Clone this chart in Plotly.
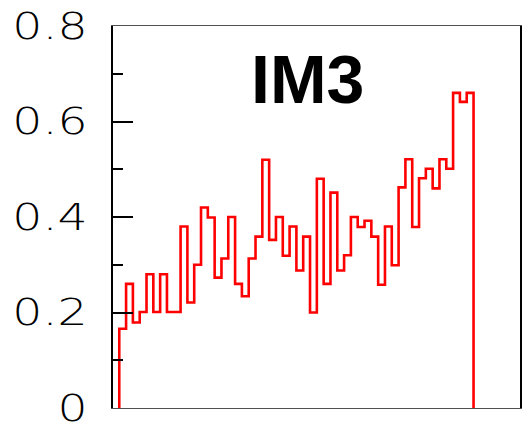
import numpy as np
import plotly.graph_objects as go

# Bin contents of the IM3 distribution (52 equal-width bins)
counts = [0.166, 0.260, 0.179, 0.201, 0.280, 0.201, 0.280, 0.201, 0.201, 0.380,
          0.221, 0.300, 0.420, 0.399, 0.273, 0.313, 0.400, 0.260, 0.234, 0.313,
          0.359, 0.520, 0.352, 0.400, 0.319, 0.380, 0.288, 0.359, 0.200, 0.480,
          0.260, 0.451, 0.288, 0.320, 0.400, 0.379, 0.392, 0.359, 0.258, 0.380,
          0.299, 0.462, 0.521, 0.379, 0.481, 0.501, 0.460, 0.521, 0.501, 0.660,
          0.641, 0.660]
tick_vals = [0, 0.2, 0.4, 0.6, 0.8]
tick_text = ["0", "0.2", "0.4", "0.6", "0.8"]
title_text = "IM3"

n = len(counts)
edges = np.arange(n + 1)

# Step outline: rise from zero at the first edge, fall back to zero at the last
xs = np.concatenate([[edges[0]], edges[:-1], [edges[-1]]])
ys = np.concatenate([[0.0], counts, [0.0]])

fig = go.Figure()
fig.add_trace(go.Scatter(
    x=xs, y=ys, mode="lines", line=dict(color="#ff0000", width=2.6, shape="hv"),
    hoverinfo="skip", showlegend=False,
))

fig.add_annotation(
    text=f"<b>{title_text}</b>", xref="paper", yref="paper", x=0.479, y=0.862,
    xanchor="center", yanchor="middle", showarrow=False,
    font=dict(family="Liberation Sans, Arial", size=68, color="black"),
)

fig.update_layout(
    width=526, height=434,
    margin=dict(l=113, r=4, t=26, b=22, pad=0),
    paper_bgcolor="white", plot_bgcolor="white",
    xaxis=dict(
        range=[-0.92, 58.82], showgrid=False, zeroline=False,
        showticklabels=False, ticks="",
        showline=True, mirror=True, linecolor="#505050", linewidth=1.2,
    ),
    yaxis=dict(
        range=[0, 0.8], showgrid=False, zeroline=False,
        tickvals=tick_vals, ticktext=tick_text,
        ticks="inside", ticklen=20, tickwidth=2, tickcolor="black",
        minor=dict(dtick=0.1, ticks="inside", ticklen=10, tickwidth=2, tickcolor="black"),
        showline=True, mirror=True, linecolor="black", linewidth=2,
        tickfont=dict(family="DejaVu Sans", size=37, color="black", weight=300),
        ticklabelstandoff=16,
    ),
)

# Widen the y tick labels horizontally, anchored at their right edge,
# keeping the placement transform that plotly already set on each label
stretch_js = """
var gd = document.getElementById('{plot_id}');
function widenTicks() {
  gd.querySelectorAll('.ytick text').forEach(function (t) {
    var base = t.getAttribute('data-base-transform');
    if (base === null) {
      base = t.getAttribute('transform') || '';
      t.setAttribute('data-base-transform', base);
    }
    var bb = t.getBBox();
    var xr = bb.x + bb.width;
    t.setAttribute('transform', base +
      ' translate(' + xr + ',0) scale(1.28,1) translate(' + (-xr) + ',0)');
  });
}
widenTicks();
gd.on('plotly_afterplot', function () {
  gd.querySelectorAll('.ytick text').forEach(function (t) {
    t.removeAttribute('data-base-transform');
  });
  widenTicks();
});
"""

fig.write_html("out.html", post_script=stretch_js)
